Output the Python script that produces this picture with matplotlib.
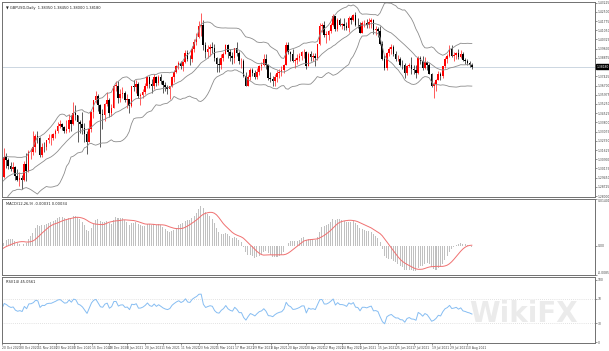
import numpy as np
import pandas as pd
import matplotlib
matplotlib.use('Agg')
import matplotlib.pyplot as plt

# GBPUSD daily bars, 20 Oct 2020 - 12 Aug 2021 (MT4 style chart)
# closes before the first visible bar, only used to warm up the indicators
warmup_close = [1.3090, 1.3240, 1.3090, 1.3240, 1.3090, 1.3080, 1.3155, 1.3215, 1.3210, 1.3350, 1.3370,
                1.3385, 1.3310, 1.3260, 1.3280, 1.3155, 1.2985, 1.2995, 1.2800, 1.2795, 1.2850, 1.2900,
                1.2960, 1.2935, 1.2920, 1.2815, 1.2730, 1.2730, 1.2750, 1.2745, 1.2825, 1.2840, 1.2920,
                1.2880, 1.2940, 1.2975, 1.2880, 1.2935, 1.2950, 1.3050, 1.3045, 1.2925, 1.3015, 1.2890,
                1.2915, 1.2950]

close_oct = [1.2948, 1.3108, 1.3082, 1.3040, 1.3016, 1.3030, 1.2956, 1.2930, 1.2945]
high_oct = [1.2963, 1.3177, 1.3140, 1.3100, 1.3065, 1.3070, 1.3040, 1.3010, 1.2990]
low_oct = [1.2863, 1.2941, 1.3025, 1.3013, 1.2995, 1.2990, 1.2930, 1.2915, 1.2880]

close_nov = [1.2925, 1.3050, 1.3000, 1.3145, 1.3150, 1.3185, 1.3270, 1.3260, 1.3125, 1.3190, 1.3185,
             1.3240, 1.3255, 1.3255, 1.3285, 1.3315, 1.3355, 1.3365, 1.3340, 1.3315, 1.3325]
high_nov = [1.2965, 1.3080, 1.3140, 1.3160, 1.3175, 1.3315, 1.3285, 1.3310, 1.3265, 1.3215, 1.3225,
            1.3245, 1.3285, 1.3290, 1.3300, 1.3330, 1.3385, 1.3400, 1.3375, 1.3350, 1.3395]
low_nov = [1.2855, 1.2920, 1.2915, 1.2990, 1.3090, 1.3120, 1.3150, 1.3220, 1.3105, 1.3110, 1.3150,
           1.3160, 1.3220, 1.3200, 1.3240, 1.3260, 1.3300, 1.3335, 1.3320, 1.3295, 1.3300]

close_dec = [1.3395, 1.3365, 1.3450, 1.3440, 1.3380, 1.3365, 1.3335, 1.3285, 1.3225, 1.3325, 1.3465,
             1.3555, 1.3585, 1.3520, 1.3445, 1.3435, 1.3525, 1.3555, 1.3450, 1.3495, 1.3670, 1.3670]
high_dec = [1.3445, 1.3440, 1.3540, 1.3520, 1.3440, 1.3400, 1.3465, 1.3375, 1.3315, 1.3395, 1.3470,
            1.3560, 1.3625, 1.3600, 1.3525, 1.3485, 1.3535, 1.3620, 1.3575, 1.3525, 1.3675, 1.3705]
low_dec = [1.3305, 1.3310, 1.3360, 1.3395, 1.3225, 1.3300, 1.3290, 1.3225, 1.3135, 1.3260, 1.3305,
           1.3415, 1.3530, 1.3470, 1.3190, 1.3325, 1.3390, 1.3510, 1.3420, 1.3430, 1.3490, 1.3630]

close_jan = [1.3570, 1.3605, 1.3610, 1.3555, 1.3565, 1.3510, 1.3665, 1.3655, 1.3685, 1.3590,
             1.3595, 1.3620, 1.3665, 1.3735, 1.3685, 1.3670, 1.3735, 1.3690, 1.3735, 1.3705]
high_jan = [1.3705, 1.3640, 1.3660, 1.3625, 1.3605, 1.3565, 1.3670, 1.3710, 1.3710, 1.3700,
            1.3615, 1.3645, 1.3690, 1.3745, 1.3745, 1.3720, 1.3760, 1.3745, 1.3755, 1.3760]
low_jan = [1.3535, 1.3540, 1.3570, 1.3540, 1.3490, 1.3450, 1.3500, 1.3625, 1.3610, 1.3575,
           1.3520, 1.3570, 1.3600, 1.3650, 1.3650, 1.3610, 1.3640, 1.3665, 1.3675, 1.3685]

close_feb = [1.3675, 1.3655, 1.3645, 1.3665, 1.3735, 1.3780, 1.3820, 1.3850, 1.3825, 1.3855,
             1.3925, 1.3880, 1.3875, 1.3960, 1.4010, 1.4055, 1.4140, 1.4145, 1.3990, 1.3930]
high_feb = [1.3715, 1.3700, 1.3675, 1.3670, 1.3745, 1.3790, 1.3830, 1.3865, 1.3865, 1.3865,
            1.3950, 1.3950, 1.3910, 1.3980, 1.4035, 1.4080, 1.4180, 1.4241, 1.4185, 1.4010]
low_feb = [1.3610, 1.3625, 1.3600, 1.3565, 1.3655, 1.3695, 1.3765, 1.3800, 1.3800, 1.3785,
           1.3850, 1.3860, 1.3835, 1.3855, 1.3935, 1.3990, 1.4040, 1.4060, 1.3950, 1.3890]

close_mar = [1.3955, 1.3975, 1.3965, 1.3885, 1.3840, 1.3830, 1.3885, 1.3920, 1.3990, 1.3930, 1.3900,
             1.3885, 1.3965, 1.3925, 1.3860, 1.3860, 1.3745, 1.3670, 1.3735, 1.3795, 1.3770, 1.3735, 1.3780]
high_mar = [1.3990, 1.3995, 1.4015, 1.4000, 1.3895, 1.3890, 1.3915, 1.3935, 1.4000, 1.3995, 1.3955,
            1.3930, 1.3965, 1.4015, 1.3945, 1.3885, 1.3880, 1.3780, 1.3755, 1.3810, 1.3805, 1.3790, 1.3810]
low_mar = [1.3890, 1.3900, 1.3925, 1.3865, 1.3775, 1.3780, 1.3800, 1.3860, 1.3915, 1.3890, 1.3865,
           1.3840, 1.3850, 1.3900, 1.3840, 1.3810, 1.3740, 1.3670, 1.3670, 1.3715, 1.3745, 1.3720, 1.3720]

close_apr = [1.3820, 1.3835, 1.3880, 1.3830, 1.3730, 1.3725, 1.3705, 1.3740, 1.3765, 1.3780, 1.3790,
             1.3835, 1.3990, 1.3935, 1.3915, 1.3865, 1.3870, 1.3885, 1.3905, 1.3935, 1.3935, 1.3820]
high_apr = [1.3835, 1.3855, 1.3920, 1.3915, 1.3840, 1.3780, 1.3745, 1.3760, 1.3790, 1.3800, 1.3825,
            1.3840, 1.4010, 1.4010, 1.3940, 1.3960, 1.3890, 1.3920, 1.3925, 1.3945, 1.3960, 1.3940]
low_apr = [1.3750, 1.3790, 1.3820, 1.3800, 1.3715, 1.3700, 1.3670, 1.3670, 1.3700, 1.3730, 1.3745,
           1.3770, 1.3830, 1.3915, 1.3860, 1.3855, 1.3810, 1.3840, 1.3860, 1.3870, 1.3890, 1.3800]

close_may = [1.3915, 1.3895, 1.3905, 1.3890, 1.3995, 1.4135, 1.4145, 1.4070, 1.4070, 1.4100, 1.4150,
             1.4215, 1.4115, 1.4185, 1.4150, 1.4150, 1.4140, 1.4120, 1.4205, 1.4185, 1.4225]
high_may = [1.3935, 1.3940, 1.3925, 1.3925, 1.4000, 1.4165, 1.4165, 1.4175, 1.4100, 1.4105, 1.4160,
            1.4235, 1.4220, 1.4200, 1.4200, 1.4160, 1.4200, 1.4170, 1.4220, 1.4215, 1.4230]
low_may = [1.3820, 1.3865, 1.3860, 1.3820, 1.3870, 1.3985, 1.4090, 1.4050, 1.4005, 1.4030, 1.4085,
           1.4135, 1.4100, 1.4100, 1.4135, 1.4115, 1.4110, 1.4110, 1.4090, 1.4155, 1.4175]

close_jun = [1.4150, 1.4145, 1.4085, 1.4160, 1.4160, 1.4150, 1.4170, 1.4185, 1.4110, 1.4115, 1.4100,
             1.4000, 1.3875, 1.3805, 1.3925, 1.3955, 1.3970, 1.3920, 1.3880, 1.3880, 1.3835, 1.3830]
high_jun = [1.4250, 1.4205, 1.4170, 1.4180, 1.4185, 1.4195, 1.4200, 1.4200, 1.4190, 1.4135, 1.4130,
            1.4135, 1.4020, 1.3910, 1.3935, 1.3975, 1.4000, 1.3990, 1.3945, 1.3910, 1.3895, 1.3870]
low_jun = [1.4140, 1.4125, 1.4085, 1.4080, 1.4130, 1.4125, 1.4125, 1.4125, 1.4075, 1.4070, 1.4055,
           1.3990, 1.3870, 1.3790, 1.3790, 1.3900, 1.3915, 1.3900, 1.3865, 1.3860, 1.3820, 1.3800]

close_jul = [1.3765, 1.3820, 1.3835, 1.3800, 1.3795, 1.3770, 1.3890, 1.3860, 1.3810, 1.3855, 1.3830,
             1.3760, 1.3665, 1.3680, 1.3710, 1.3760, 1.3745, 1.3820, 1.3880, 1.3905, 1.3955, 1.3900]
high_jul = [1.3850, 1.3835, 1.3850, 1.3895, 1.3835, 1.3830, 1.3900, 1.3905, 1.3900, 1.3895, 1.3860,
            1.3845, 1.3770, 1.3700, 1.3725, 1.3785, 1.3775, 1.3825, 1.3895, 1.3920, 1.3985, 1.3985]
low_jul = [1.3730, 1.3755, 1.3815, 1.3760, 1.3760, 1.3730, 1.3760, 1.3840, 1.3790, 1.3800, 1.3795,
           1.3760, 1.3660, 1.3572, 1.3630, 1.3710, 1.3715, 1.3730, 1.3805, 1.3850, 1.3895, 1.3895]

close_aug = [1.3910, 1.3925, 1.3895, 1.3920, 1.3870, 1.3860, 1.3845, 1.3835, 1.3818]
high_aug = [1.3935, 1.3935, 1.3960, 1.3950, 1.3935, 1.3885, 1.3875, 1.3860, 1.3845]
low_aug = [1.3865, 1.3875, 1.3875, 1.3890, 1.3860, 1.3840, 1.3830, 1.3815, 1.3800]

price_ticks = [1.28000 + 0.00725 * k for k in range(22)]
rsi_levels = [30, 70]

RED = '#ff0000'
BLACK = '#000000'
BAND_COLOR = '#8c8c8c'
HIST_COLOR = '#c0c0c0'
SIGNAL_COLOR = '#f07070'
RSI_COLOR = '#86bdf2'
FRAME_COLOR = '#707070'

close = np.array(close_oct + close_nov + close_dec + close_jan + close_feb + close_mar +
                 close_apr + close_may + close_jun + close_jul + close_aug)
high = np.array(high_oct + high_nov + high_dec + high_jan + high_feb + high_mar +
                high_apr + high_may + high_jun + high_jul + high_aug)
low = np.array(low_oct + low_nov + low_dec + low_jan + low_feb + low_mar +
               low_apr + low_may + low_jun + low_jul + low_aug)
opn = np.concatenate([[warmup_close[-1]], close[:-1]])
high = np.maximum(high, np.maximum(opn, close))
low = np.minimum(low, np.minimum(opn, close))

dates = pd.bdate_range('2020-10-20', '2021-08-12')
dates = dates[~dates.isin(pd.to_datetime(['2020-12-25', '2021-01-01']))]
n = len(close)
idx = np.arange(n)

# indicators, computed on warm-up + visible closes
allc = pd.Series(warmup_close + list(close))
nw = len(warmup_close)
mid = allc.rolling(20).mean()
sd = allc.rolling(20).std(ddof=0)
upper = (mid + 2 * sd).values[nw:]
lower = (mid - 2 * sd).values[nw:]
mid = mid.values[nw:]
macd_all = allc.ewm(span=12, adjust=False).mean() - allc.ewm(span=26, adjust=False).mean()
signal = macd_all.rolling(9).mean().values[nw:]
macd = macd_all.values[nw:]
delta = allc.diff()
gain = delta.clip(lower=0).ewm(alpha=1 / 14, adjust=False).mean()
loss = (-delta.clip(upper=0)).ewm(alpha=1 / 14, adjust=False).mean()
rsi = (100 - 100 / (1 + gain / loss)).values[nw:]

W, H = 609, 351


def box(x0, y0, x1, y1):
    return [x0 / W, 1 - y1 / H, (x1 - x0) / W, (y1 - y0) / H]


fig = plt.figure(figsize=(W / 100, H / 100), dpi=100)
fig.patch.set_facecolor('white')
ax = fig.add_axes(box(2, 2, 595, 197))
ax_macd = fig.add_axes(box(2, 199, 595, 275))
ax_rsi = fig.add_axes(box(2, 277, 595, 343))

FS = 2.2      # axis labels
FS_T = 2.6    # indicator captions
for a in (ax, ax_macd, ax_rsi):
    a.set_xlim(0.2, 265)
    for s in a.spines.values():
        s.set_color(FRAME_COLOR)
        s.set_linewidth(0.7)
    a.yaxis.tick_right()
    a.tick_params(axis='y', labelsize=FS, length=1.2, width=0.4, pad=0.8, colors='#444444')
    a.tick_params(axis='x', bottom=False, labelbottom=False)

# main price chart
up = close >= opn
cols = np.where(up, RED, BLACK)
ax.vlines(idx, low, high, colors=cols, linewidth=0.45)
body = np.maximum(np.abs(close - opn), 0.00015)
ax.bar(idx, body, bottom=np.minimum(opn, close), width=0.7, color=cols, linewidth=0)
ax.plot(idx, upper, color=BAND_COLOR, lw=0.6)
ax.plot(idx, mid, color=BAND_COLOR, lw=0.6)
ax.plot(idx, lower, color=BAND_COLOR, lw=0.6)
ax.axhline(close[-1], color='#c4d0dc', lw=0.6, zorder=0)
ax.set_ylim(1.2793, 1.4327)
ax.set_yticks(price_ticks)
ax.set_yticklabels([f'{v:.5f}' for v in price_ticks])
ax.annotate(f'{close[-1]:.5f}', xy=(1.0, close[-1]), xycoords=('axes fraction', 'data'),
            xytext=(1.0, 0), textcoords='offset points', va='center', ha='left',
            fontsize=FS, color='white',
            bbox=dict(boxstyle='square,pad=0.2', fc='black', ec='black'))
ax.text(0.006, 0.978, '\u25bc GBPUSD,Daily  {:.5f} {:.5f} {:.5f} {:.5f}'.format(
    opn[-1], high[-1], low[-1], close[-1]), transform=ax.transAxes, fontsize=FS_T,
    va='top', ha='left', color='#222222')

# MACD
ax_macd.bar(idx, macd, width=0.45, color=HIST_COLOR, linewidth=0)
ax_macd.plot(idx, signal, color=SIGNAL_COLOR, lw=0.7)
lo = min(np.nanmin(macd), np.nanmin(signal))
hi = max(np.nanmax(macd), np.nanmax(signal))
rng = hi - lo
ax_macd.set_ylim(lo - 0.06 * rng, hi + 0.1 * rng)
mlo, mhi = ax_macd.get_ylim()
ax_macd.set_yticks([mlo, 0, mhi])
ax_macd.set_yticklabels([f'{mlo:.4f}', '0.00', f'{mhi:.5f}'])
for lab, va in zip(ax_macd.get_yticklabels(), ['bottom', 'center', 'top']):
    lab.set_va(va)
ax_macd.text(0.006, 0.965, f'MACD(12,26,9) {macd[-1]:.5f} {signal[-1]:.5f}',
             transform=ax_macd.transAxes, fontsize=FS_T, va='top', ha='left', color='#222222')

# RSI
for lv in rsi_levels:
    ax_rsi.axhline(lv, color='#c8c8c8', lw=0.5, ls=(0, (1, 2)))
ax_rsi.plot(idx, rsi, color=RSI_COLOR, lw=0.7)
ax_rsi.set_ylim(-1.6, 104.8)
ax_rsi.set_yticks([0, 30, 70, 100])
ax_rsi.set_yticklabels(['0', '30', '70', '100'])
ax_rsi.text(0.006, 0.96, f'RSI(14) {rsi[-1]:.4f}', transform=ax_rsi.transAxes,
            fontsize=FS_T, va='top', ha='left', color='#222222')

# date axis, a label every 8 bars
ticks = idx[::8]
ax_rsi.tick_params(axis='x', bottom=True, labelbottom=True, length=1.2, width=0.4,
                   labelsize=FS, pad=0.8, colors='#444444')
ax_rsi.set_xticks(ticks)
ax_rsi.set_xticklabels([f'{d.day} {d:%b %Y}' for d in dates[ticks]], ha='left')

# watermark
fig.text(0.86, 0.105, 'WikiFX', fontsize=20, color='#e6e6e6', fontweight='bold',
         ha='center', va='center', zorder=10, alpha=0.8)

fig.savefig('out.png', dpi=100)
